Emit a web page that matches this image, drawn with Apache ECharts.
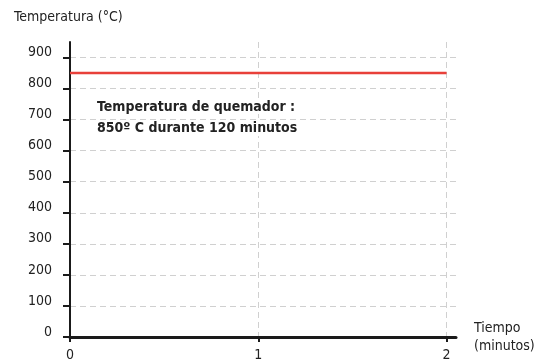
<!DOCTYPE html>
<html><head><meta charset="utf-8">
<script src="https://cdn.jsdelivr.net/npm/echarts@6/dist/echarts.min.js"></script>
<style>html,body{margin:0;padding:0;background:#fff}#c{width:537px;height:363px}</style>
</head><body><div id="c"></div>
<script>
const times = [0, 2];
const temps = [850, 850];
const xTicks = [0, 1, 2];
const yTicks = [0, 100, 200, 300, 400, 500, 600, 700, 800, 900];
const yTitle = 'Temperatura (°C)';
const xTitle = ['Tiempo', '(minutos)'];
const note = ['Temperatura de quemador :', '850º C durante 120 minutos'];

const FONT = "'Liberation Sans Narrow','DejaVu Sans Condensed',sans-serif";
const chart = echarts.init(document.getElementById('c'), null, {renderer: 'canvas'});
chart.setOption({
  animation: false,
  backgroundColor: '#fff',
  grid: {left: 70, right: 81, top: 42, bottom: 26},
  xAxis: {
    type: 'value', min: 0, max: 2.05,
    axisLine: {show: true, lineStyle: {color: '#1a1a1a', width: 3}},
    axisTick: {show: true, customValues: xTicks, length: 5, lineStyle: {color: '#1a1a1a', width: 2}},
    axisLabel: {customValues: xTicks, color: '#222', fontSize: 14, fontFamily: FONT, margin: 11},
    splitLine: {show: true, lineStyle: {color: '#d0d0d0', type: [6, 4], width: 1}}
  },
  yAxis: {
    type: 'value', min: 0, max: 950,
    axisLine: {show: true, lineStyle: {color: '#1a1a1a', width: 2}},
    axisTick: {show: true, customValues: yTicks, length: 7, lineStyle: {color: '#1a1a1a', width: 2}},
    axisLabel: {customValues: yTicks, color: '#222', fontSize: 14, fontFamily: FONT, margin: 18, verticalAlign: 'bottom', lineHeight: 10},
    splitLine: {show: true, lineStyle: {color: '#d0d0d0', type: [6, 4], width: 1}}
  },
  series: [{
    type: 'line', data: times.map((t, i) => [t, temps[i]]),
    symbol: 'none', lineStyle: {color: '#e8403a', width: 2.5}, z: 5
  }],
  graphic: [
    {type: 'text', left: 14, top: 10, style: {text: yTitle, fill: '#222', font: '14px ' + FONT}},
    {type: 'text', left: 474, top: 319, style: {text: xTitle.join('\n'), fill: '#222', font: '14px ' + FONT, lineHeight: 18}},
    {type: 'text', left: 97, top: 99, z: 10, style: {text: note[0], fill: '#222', font: 'bold 14px ' + FONT, backgroundColor: '#fff', padding: [1, 2, 0, 0]}},
    {type: 'text', left: 97, top: 121, z: 10, style: {text: note[1], fill: '#222', font: 'bold 14px ' + FONT, backgroundColor: '#fff', padding: [0, 2, 1, 0]}}
  ]
});
</script></body></html>
